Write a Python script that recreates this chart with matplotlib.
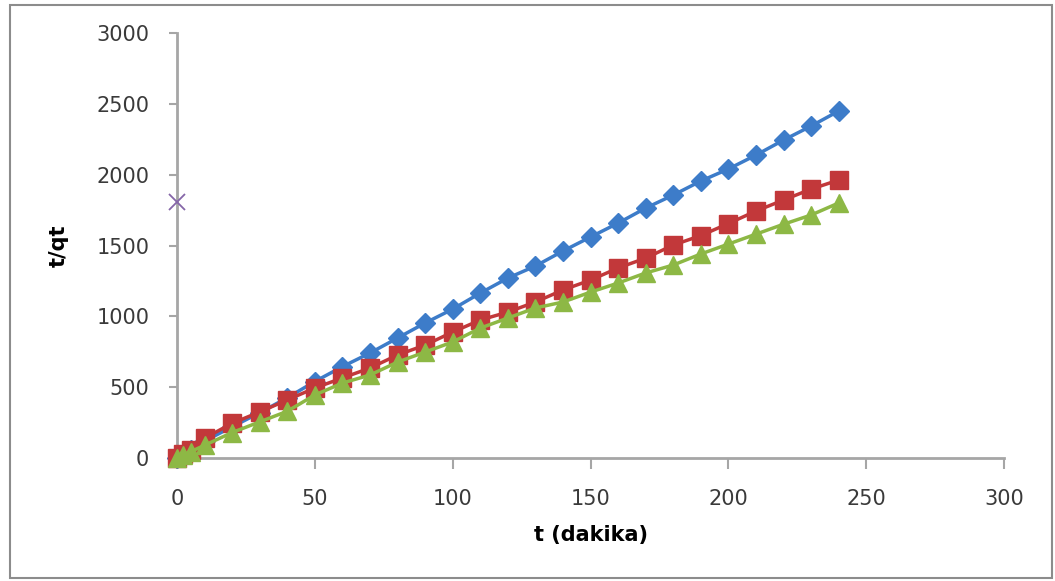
import matplotlib
matplotlib.use("Agg")
import matplotlib.pyplot as plt
from matplotlib.patches import Rectangle

# sampling times (dakika)
t = [0, 2, 5, 10, 20, 30, 40, 50, 60, 70, 80, 90, 100, 110, 120,
     130, 140, 150, 160, 170, 180, 190, 200, 210, 220, 230, 240]

# t/qt for each series
blue_vals = [0, 25, 60, 120, 220, 320, 425, 540, 645, 741, 847, 953, 1051, 1164, 1270,
             1355, 1461, 1560, 1658, 1764, 1856, 1955, 2040, 2138, 2244, 2343, 2449]
red_vals = [0, 30, 60, 140, 245, 325, 410, 494, 565, 635, 727, 797, 889, 974, 1030,
            1101, 1186, 1256, 1341, 1411, 1503, 1570, 1655, 1743, 1821, 1898, 1962]
green_vals = [0, 20, 45, 90, 180, 255, 330, 445, 529, 586, 677, 748, 819, 917, 988,
              1059, 1101, 1171, 1235, 1306, 1362, 1440, 1510, 1580, 1650, 1715, 1800]

# lone point of the fourth series
extra_t = [0]
extra_vals = [1810]

xticks = [0, 50, 100, 150, 200, 250, 300]
yticks = [0, 500, 1000, 1500, 2000, 2500, 3000]

fig = plt.figure(figsize=(10.55, 5.81), dpi=100)
ax = fig.add_axes([0.1678, 0.2117, 0.7839, 0.7315])

ax.plot(t, blue_vals, color="#3D7CC9", marker="D", markersize=10.5, lw=2.5, clip_on=False, zorder=3)
ax.plot(t, red_vals, color="#C2383A", marker="s", markersize=12.5, lw=2.5, clip_on=False, zorder=4)
ax.plot(t, green_vals, color="#8DB845", marker="^", markersize=13.5, lw=2.5, clip_on=False, zorder=5)
ax.plot(extra_t, extra_vals, color="#8566A8", marker="x", markersize=12, mew=1.3, lw=0,
        clip_on=False, zorder=6)

ax.set_xlim(0, 300)
ax.set_ylim(0, 3000)
ax.set_xticks(xticks)
ax.set_yticks(yticks)

for side in ["top", "right"]:
    ax.spines[side].set_visible(False)
for side in ["left", "bottom"]:
    ax.spines[side].set_color("#A6A6A6")
    ax.spines[side].set_linewidth(2)

ax.tick_params(axis="y", direction="out", length=6, width=1.5, color="#A6A6A6",
               labelsize=15, labelcolor="#3A3A3A", pad=14)
ax.tick_params(axis="x", direction="out", length=8, width=1.5, color="#A6A6A6",
               labelsize=15, labelcolor="#3A3A3A", pad=14)

ax.set_xlabel("t (dakika)", fontsize=15, fontweight="bold", labelpad=12)
ax.set_ylabel("t/qt", fontsize=15, fontweight="bold", labelpad=20)

# outer chart frame
fig.patches.append(Rectangle((0.0095, 0.005), 0.988, 0.986, transform=fig.transFigure,
                             fill=False, edgecolor="#8C8C8C", lw=1.5))

fig.savefig("out.png", dpi=100)
